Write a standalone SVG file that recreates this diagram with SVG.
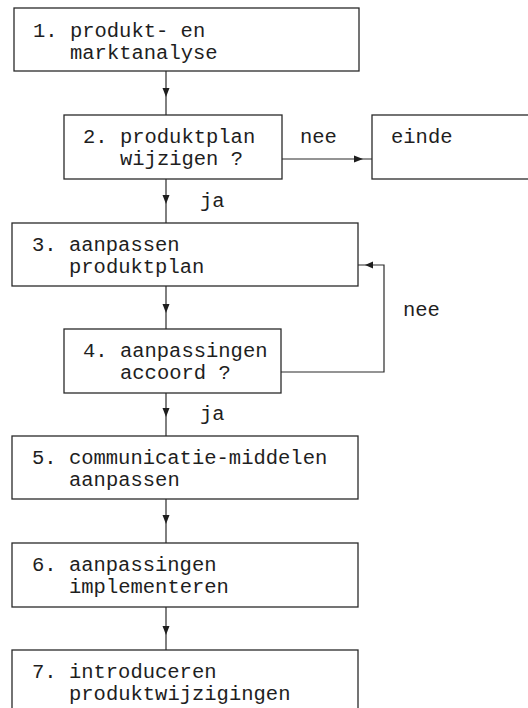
<svg xmlns="http://www.w3.org/2000/svg" width="528" height="708" viewBox="0 0 528 708">
  <defs>
    <style>
      .box { fill: #ffffff; stroke: #2a2a2a; stroke-width: 1.3; }
      .lbl { font-family: "Liberation Mono", "DejaVu Sans Mono", monospace; font-size: 20.5px; fill: #1e1e1e; }
      .wire { fill: none; stroke: #2a2a2a; stroke-width: 1.2; }
      .head { fill: #1e1e1e; stroke: none; }
    </style>
  </defs>
  <rect width="528" height="708" fill="#ffffff"/>

  <!-- connectors -->
  <g id="connectors">
    <line class="wire" x1="166" y1="71" x2="166" y2="115"/>
    <polygon class="head" points="162.5,88 169.5,88 166,97"/>

    <line class="wire" x1="166" y1="179" x2="166" y2="223"/>
    <polygon class="head" points="162.5,195 169.5,195 166,204"/>

    <line class="wire" x1="282" y1="159" x2="372" y2="159"/>
    <polygon class="head" points="354,155.5 354,162.5 363,159"/>

    <line class="wire" x1="166" y1="286" x2="166" y2="329"/>
    <polygon class="head" points="162.5,304 169.5,304 166,313"/>

    <polyline class="wire" points="281,372 384,372 384,265 358,265"/>
    <polygon class="head" points="373,261.5 373,268.5 365,265"/>

    <line class="wire" x1="166" y1="393" x2="166" y2="436"/>
    <polygon class="head" points="162.5,408 169.5,408 166,417"/>

    <line class="wire" x1="166" y1="499" x2="166" y2="543"/>
    <polygon class="head" points="162.5,515 169.5,515 166,524"/>

    <line class="wire" x1="166" y1="607" x2="166" y2="650"/>
    <polygon class="head" points="162.5,626 169.5,626 166,635"/>

    <text class="lbl" x="300" y="143">nee</text>
    <text class="lbl" x="200" y="207">ja</text>
    <text class="lbl" x="403" y="316">nee</text>
    <text class="lbl" x="200" y="420">ja</text>
  </g>

  <g id="step1">
    <rect class="box" x="14" y="8" width="345" height="63"/>
    <text class="lbl" x="33" y="37">1. produkt- en</text>
    <text class="lbl" x="70" y="59">marktanalyse</text>
  </g>

  <g id="step2">
    <rect class="box" x="64" y="115" width="218" height="64"/>
    <text class="lbl" x="83" y="143">2. produktplan</text>
    <text class="lbl" x="120" y="165">wijzigen ?</text>
  </g>

  <g id="end">
    <rect class="box" x="372" y="115" width="170" height="64"/>
    <text class="lbl" x="391" y="143">einde</text>
  </g>

  <g id="step3">
    <rect class="box" x="12" y="223" width="346" height="63"/>
    <text class="lbl" x="32" y="251">3. aanpassen</text>
    <text class="lbl" x="69" y="273">produktplan</text>
  </g>

  <g id="step4">
    <rect class="box" x="64" y="329" width="217" height="64"/>
    <text class="lbl" x="83" y="357">4. aanpassingen</text>
    <text class="lbl" x="120" y="379">accoord ?</text>
  </g>

  <g id="step5">
    <rect class="box" x="12" y="436" width="346" height="63"/>
    <text class="lbl" x="32" y="464">5. communicatie-middelen</text>
    <text class="lbl" x="69" y="486">aanpassen</text>
  </g>

  <g id="step6">
    <rect class="box" x="12" y="543" width="346" height="64"/>
    <text class="lbl" x="32" y="571">6. aanpassingen</text>
    <text class="lbl" x="69" y="593">implementeren</text>
  </g>

  <g id="step7">
    <rect class="box" x="12" y="650" width="346" height="80"/>
    <text class="lbl" x="32" y="678">7. introduceren</text>
    <text class="lbl" x="69" y="700">produktwijzigingen</text>
  </g>
</svg>
